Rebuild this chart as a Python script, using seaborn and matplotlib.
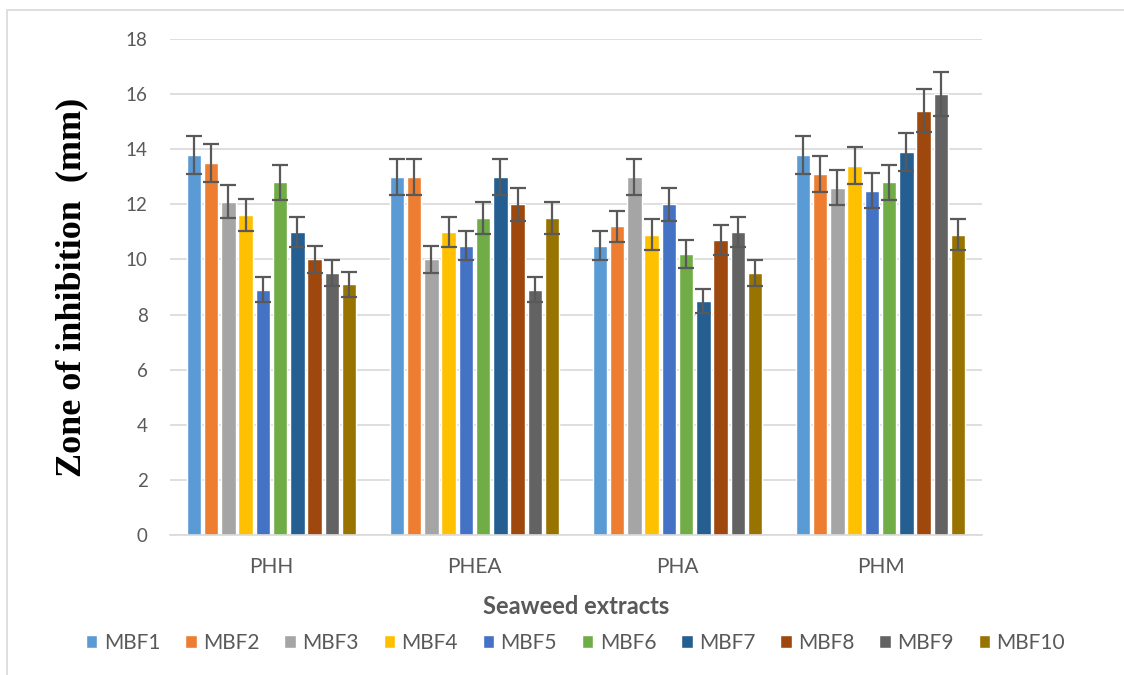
import pandas as pd
import seaborn as sns
import matplotlib.pyplot as plt
from matplotlib.patches import Rectangle

# Data
extracts = ['PHH', 'PHEA', 'PHA', 'PHM']
strains = ['MBF1', 'MBF2', 'MBF3', 'MBF4', 'MBF5', 'MBF6', 'MBF7', 'MBF8', 'MBF9', 'MBF10']

phh = [13.8, 13.5, 12.1, 11.6, 8.9, 12.8, 11.0, 10.0, 9.5, 9.1]
phea = [13.0, 13.0, 10.0, 11.0, 10.5, 11.5, 13.0, 12.0, 8.9, 11.5]
pha = [10.5, 11.2, 13.0, 10.9, 12.0, 10.2, 8.5, 10.7, 11.0, 9.5]
phm = [13.8, 13.1, 12.6, 13.4, 12.5, 12.8, 13.9, 15.4, 16.0, 10.9]

phh_err = [0.69, 0.68, 0.61, 0.58, 0.45, 0.64, 0.55, 0.50, 0.48, 0.46]
phea_err = [0.65, 0.65, 0.50, 0.55, 0.53, 0.58, 0.65, 0.60, 0.45, 0.58]
pha_err = [0.53, 0.56, 0.65, 0.55, 0.60, 0.51, 0.43, 0.54, 0.55, 0.48]
phm_err = [0.69, 0.66, 0.63, 0.67, 0.63, 0.64, 0.70, 0.77, 0.80, 0.55]

colors = ['#5B9BD5', '#ED7D31', '#A5A5A5', '#FFC000', '#4472C4',
          '#70AD47', '#255E91', '#9E480E', '#636363', '#997300']

values = {'PHH': phh, 'PHEA': phea, 'PHA': pha, 'PHM': phm}
errors = {'PHH': phh_err, 'PHEA': phea_err, 'PHA': pha_err, 'PHM': phm_err}

rows = []
for ext in extracts:
    for i, s in enumerate(strains):
        rows.append({'Extract': ext, 'Strain': s, 'Zone': values[ext][i], 'Err': errors[ext][i]})
df = pd.DataFrame(rows)

sns.set_style("white")
plt.rcParams['font.family'] = ['Lato', 'DejaVu Sans']

fig = plt.figure(figsize=(11.24, 6.75), dpi=100)
ax = fig.add_axes([170 / 1124, 1 - 535 / 675, 812 / 1124, 496 / 675])

sns.barplot(data=df, x='Extract', y='Zone', hue='Strain', order=extracts, hue_order=strains,
            palette=colors, width=0.85, gap=0.17, errorbar=None, saturation=1, ax=ax)

# error bars on top of each bar
for cont, s in zip(ax.containers, strains):
    for bar, ext in zip(cont, extracts):
        err = df[(df.Extract == ext) & (df.Strain == s)]['Err'].iloc[0]
        ax.errorbar(bar.get_x() + bar.get_width() / 2, bar.get_height(), yerr=err,
                    color='#595959', elinewidth=1.6, capsize=6, capthick=1.6, zorder=5)

ax.set_xlim(-0.5, len(extracts) - 0.5)
ax.set_ylim(0, 18)
ax.set_yticks(range(0, 19, 2))
ax.yaxis.grid(True, color='#D9D9D9', linewidth=1.2)
ax.set_axisbelow(True)
for side in ['left', 'right', 'top']:
    ax.spines[side].set_visible(False)
ax.spines['bottom'].set_color('#D9D9D9')
ax.spines['bottom'].set_linewidth(1.2)
ax.tick_params(axis='both', length=0, labelsize=15, labelcolor='#595959')
ax.tick_params(axis='y', pad=16, labelsize=13.5)
ax.tick_params(axis='x', pad=16)

ax.set_xlabel('Seaweed extracts', fontsize=17, fontweight='bold', color='#595959', labelpad=13)
ax.set_ylabel('Zone of inhibition  (mm)', fontsize=26, fontweight='bold', color='black',
              family=['Liberation Serif', 'DejaVu Serif'])
ax.yaxis.set_label_coords(-82 / 812, 0.5)

handles, labels = ax.get_legend_handles_labels()
ax.legend(handles, labels, loc='center', bbox_to_anchor=(0.512, 1 - 643 / 675),
          bbox_transform=fig.transFigure, ncol=10, frameon=False, fontsize=15,
          labelcolor='#595959', handlelength=0.55, handleheight=0.55, handletextpad=0.3,
          columnspacing=1.2)

# chart border (only left/top edges visible in the reference)
fig.patches.append(Rectangle((7 / 1124, -0.1), 1.2, 1 - 10 / 675 + 0.1, transform=fig.transFigure,
                             fill=False, edgecolor='#D9D9D9', linewidth=1.2))

plt.savefig('out.png', dpi=100)
